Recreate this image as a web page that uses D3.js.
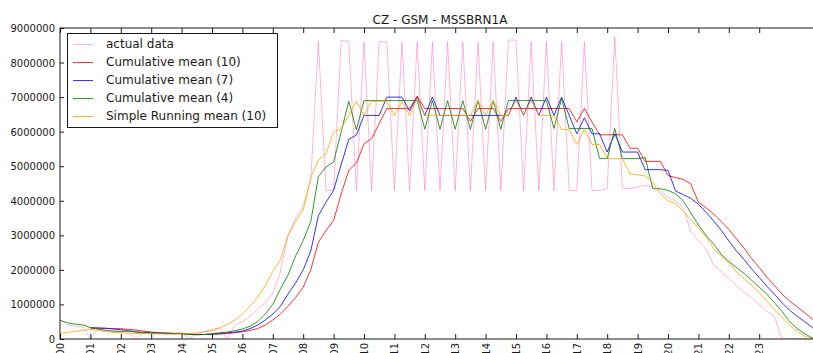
<!DOCTYPE html>
<html>
<head>
<meta charset="utf-8">
<script src="https://cdn.jsdelivr.net/npm/d3@7"></script>
<style>
  html, body { margin: 0; padding: 0; background: #fff; overflow: hidden; }
  svg { display: block; font-family: "DejaVu Sans", sans-serif; }
</style>
</head>
<body>
<svg id="chart" width="813" height="353"></svg>
<script>
// ---- data (quarterly index 0..100, year ticks every 4 quarters) ----
const title = "CZ - GSM - MSSBRN1A";
const tickYears = ["2000","2001","2002","2003","2004","2005","2006","2007","2008","2009","2010","2011",
  "2012","2013","2014","2015","2016","2017","2018","2019","2020","2021","2022","2023"];
const yTicks = [0,1000000,2000000,3000000,4000000,5000000,6000000,7000000,8000000,9000000];

// values in millions
const actualData = [0.55,0.42,0.37,0.35,0.0,0.3,0.25,0.22,0.22,0.2,0.0,0.2,0.18,0.17,0.16,0.17,0.18,0.0,0.18,0.22,
  0.27,0.33,0.0,0.4,0.5,0.65,0.85,1.05,1.3,1.95,3.0,3.5,3.85,4.6,8.6,4.3,4.3,8.65,8.6,4.3,
  8.6,4.3,8.6,8.6,4.3,8.6,4.3,8.6,4.3,8.6,4.3,8.6,4.3,8.6,4.3,8.6,4.3,8.6,4.3,8.65,
  8.65,4.3,8.6,4.3,8.6,4.3,8.6,4.3,4.3,8.6,4.3,4.3,4.35,8.75,4.37,4.35,4.4,4.45,4.4,4.3,
  4.1,4.0,3.8,3.1,2.85,2.6,2.15,1.95,1.75,1.55,1.35,1.2,1.0,0.8,0.65,0.0,0.0,0.0,0.0,0.0,0.0];
const cumMean10 = [null,null,null,null,0.31,0.31,0.31,0.3,0.3,0.28,0.26,0.23,0.2,0.18,0.17,0.16,0.16,0.14,0.13,0.13,
  0.14,0.14,0.16,0.18,0.21,0.25,0.3,0.4,0.55,0.72,0.95,1.2,1.5,2.0,2.8,3.14,3.43,4.2,4.88,5.09,
  5.65,5.8,6.23,6.67,6.67,6.67,6.67,7.03,6.67,6.67,6.67,6.67,6.67,6.67,6.3,6.67,6.67,6.67,6.3,6.67,
  6.67,6.67,6.67,6.67,6.67,6.67,6.67,6.67,6.28,6.67,6.28,5.91,5.91,5.91,5.91,5.52,5.52,5.14,5.14,5.14,
  4.73,4.67,4.62,4.49,3.96,3.8,3.62,3.4,3.17,2.9,2.63,2.33,2.07,1.79,1.55,1.3,1.1,0.93,0.76,0.57,0.43];
const cumMean7 = [null,null,null,null,0.33,0.32,0.31,0.29,0.27,0.24,0.21,0.19,0.18,0.17,0.17,0.16,0.16,0.14,0.13,0.13,
  0.14,0.16,0.18,0.2,0.23,0.3,0.4,0.55,0.72,0.95,1.3,1.62,2.0,2.55,3.57,3.96,4.3,5.05,5.78,5.9,
  6.47,6.47,6.47,7.0,7.0,7.0,6.6,7.0,6.47,7.0,6.47,6.47,6.47,6.47,6.47,6.47,6.47,6.47,6.47,6.47,
  7.0,6.47,7.0,6.47,7.0,6.47,7.0,6.47,5.94,6.4,5.94,5.94,5.41,5.94,5.41,5.41,5.41,4.9,4.9,4.9,
  4.88,4.28,4.18,4.07,3.9,3.67,3.42,3.15,2.84,2.55,2.3,2.03,1.78,1.53,1.3,1.05,0.83,0.66,0.5,0.33,0.2];
const cumMean4 = [0.54,0.47,0.43,0.41,0.33,0.29,0.25,0.23,0.22,0.23,0.2,0.18,0.18,0.17,0.16,0.16,0.15,0.13,0.12,0.13,
  0.15,0.18,0.2,0.24,0.29,0.37,0.5,0.72,1.0,1.45,1.85,2.4,2.85,3.4,4.7,4.98,5.12,6.0,6.88,6.05,
  6.9,6.9,6.9,6.9,6.9,6.9,6.9,6.9,6.07,6.9,6.07,6.9,6.07,6.9,6.07,6.9,6.07,6.9,6.07,6.9,
  6.9,6.9,6.9,6.9,6.9,6.09,6.96,6.09,6.09,6.09,6.09,5.22,5.22,6.09,5.22,5.22,5.22,5.25,4.35,4.35,
  4.3,4.2,4.0,3.65,3.3,3.0,2.75,2.45,2.25,2.07,1.9,1.7,1.5,1.3,1.05,0.8,0.5,0.3,0.15,0.03,0.0];
const runMean10 = [0.16,0.19,0.22,0.25,0.28,0.25,0.21,0.19,0.18,0.17,0.16,0.16,0.15,0.15,0.14,0.14,0.15,0.16,0.17,0.2,
  0.25,0.31,0.42,0.55,0.72,0.95,1.2,1.55,1.95,2.3,3.0,3.4,3.72,4.68,5.17,5.36,5.99,6.09,6.47,6.88,
  6.47,6.88,6.88,6.88,6.47,6.88,6.47,6.97,6.47,6.47,6.47,6.47,6.47,6.47,6.47,6.9,6.47,6.9,6.47,6.47,
  6.9,6.47,6.9,6.47,6.47,6.47,6.06,6.06,5.63,6.06,5.63,5.63,5.22,5.22,5.22,4.78,4.75,4.72,4.54,4.2,
  4.0,3.92,3.7,3.45,3.22,2.95,2.62,2.4,2.2,1.95,1.75,1.55,1.35,1.1,0.85,0.63,0.4,0.22,0.08,0.0,0.0];

const seriesNames = ["actual data","Cumulative mean (10)","Cumulative mean (7)","Cumulative mean (4)","Simple Running mean (10)"];
const seriesColors = ["#ff69b4","#ff0000","#0000ff","#008000","#ffa500"];
const seriesOpacity = [0.5,0.8,0.8,0.8,0.8];
const seriesData = [actualData, cumMean10, cumMean7, cumMean4, runMean10];

// ---- layout ----
const svg = d3.select("#chart");
const L = 60, T = 28, R = 820, B = 339;
const x = d3.scaleLinear().domain([0, 100]).range([L, R]);
const y = d3.scaleLinear().domain([0, 9000000]).range([B, T]);
const ink = "#1a1a1a";

svg.append("rect").attr("width", 813).attr("height", 353).attr("fill", "#fff");

svg.append("defs").append("clipPath").attr("id", "clip")
  .append("rect").attr("x", L).attr("y", T).attr("width", R - L).attr("height", B - T);

// lines
const line = d3.line()
  .defined(d => d.v !== null)
  .x(d => x(d.i))
  .y(d => y(d.v * 1e6));

const plot = svg.append("g").attr("clip-path", "url(#clip)");
seriesData.forEach((arr, k) => {
  plot.append("path")
    .datum(arr.map((v, i) => ({ i, v })))
    .attr("fill", "none")
    .attr("stroke", seriesColors[k])
    .attr("stroke-opacity", seriesOpacity[k])
    .attr("stroke-width", 1)
    .attr("stroke-linejoin", "miter")
    .attr("d", line);
});

// axes
const xTickVals = tickYears.map((_, k) => k * 4);
const yAx = svg.append("g").attr("transform", `translate(${L},0)`)
  .call(d3.axisLeft(y).tickValues(yTicks).tickSize(-4).tickPadding(5).tickFormat(d3.format("d")));
const xAx = svg.append("g").attr("transform", `translate(0,${B})`)
  .call(d3.axisBottom(x).tickValues(xTickVals).tickSize(-5).tickFormat((d, k) => tickYears[k]));
const xTop = svg.append("g").attr("transform", `translate(0,${T})`)
  .call(d3.axisTop(x).tickValues(xTickVals).tickSize(-5).tickFormat(""));

[yAx, xAx, xTop].forEach(g => {
  g.select(".domain").remove();
  g.selectAll(".tick line").attr("stroke", ink);
  g.selectAll("text").attr("fill", ink).style("font-size", "10px").attr("font-family", "DejaVu Sans");
});
yAx.selectAll("text").attr("dy", "0.35em");
xAx.selectAll("text")
  .attr("text-anchor", "end")
  .attr("transform", "translate(0,4) rotate(-90)")
  .attr("x", 0).attr("y", 0).attr("dy", "0.35em");

// frame
svg.append("rect")
  .attr("x", L).attr("y", T).attr("width", R - L).attr("height", B - T)
  .attr("fill", "none").attr("stroke", ink).attr("stroke-width", 1);

// title
svg.append("text")
  .attr("x", (L + R) / 2).attr("y", 24)
  .attr("text-anchor", "middle")
  .attr("fill", ink)
  .style("font-size", "12px")
  .text(title);

// legend
const leg = svg.append("g");
leg.append("rect")
  .attr("x", 67.5).attr("y", 33.5).attr("width", 210).attr("height", 94)
  .attr("fill", "#fff").attr("stroke", ink).attr("stroke-width", 1);
seriesNames.forEach((name, k) => {
  const cy = 44 + k * 18;
  leg.append("line")
    .attr("x1", 73).attr("x2", 93).attr("y1", cy + 0.5).attr("y2", cy + 0.5)
    .attr("stroke", seriesColors[k]).attr("stroke-opacity", seriesOpacity[k]).attr("stroke-width", 1);
  leg.append("text")
    .attr("x", 106).attr("y", cy).attr("dy", "0.35em")
    .attr("fill", ink)
    .style("font-size", "12px")
    .text(name);
});
</script>
</body>
</html>
